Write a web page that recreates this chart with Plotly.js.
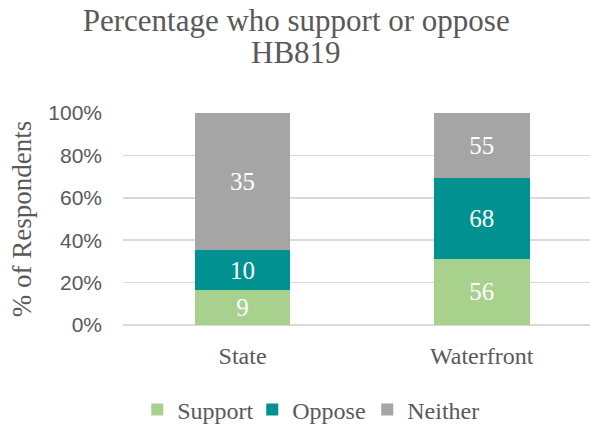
<!DOCTYPE html>
<html>
<head>
<meta charset="utf-8">
<script src="https://cdn.plot.ly/plotly-3.0.1.min.js"></script>
<style>html,body{margin:0;padding:0;background:#fff;}#chart{width:590px;height:427px;}</style>
</head>
<body>
<div id="chart"></div>
<script>
const categories = ["State", "Waterfront"];
const support = [9, 56];
const oppose = [10, 68];
const neither = [35, 55];
const seriesNames = ["Support", "Oppose", "Neither"];
const seriesColors = ["#A9D18E", "#009190", "#A5A5A5"];
const titleLine1 = "Percentage who support or oppose";
const titleLine2 = "HB819";

const serif = "'Liberation Serif', 'Times New Roman', serif";
const sans = "'Liberation Sans', Arial, sans-serif";
const vals = [support, oppose, neither];

const traces = vals.map((v, i) => ({
  type: "bar",
  name: seriesNames[i],
  x: categories,
  y: v,
  text: v.map(String),
  textposition: "inside",
  insidetextanchor: "middle",
  textangle: 0,
  textfont: {family: serif, size: 25, color: "#ffffff"},
  marker: {color: seriesColors[i], line: {width: 0}},
  width: 0.4,
  hoverinfo: "skip"
}));

const layout = {
  width: 590, height: 427,
  margin: {l: 123, r: 0, t: 113, b: 102},
  paper_bgcolor: "#ffffff",
  plot_bgcolor: "#ffffff",
  barmode: "stack",
  barnorm: "percent",
  showlegend: true,
  title: {
    text: titleLine1,
    font: {family: serif, size: 31, color: "#595959"},
    x: 0.502, xref: "container", xanchor: "center",
    y: 0.953, yref: "container", yanchor: "middle"
  },
  annotations: [{
    text: titleLine2,
    showarrow: false,
    xref: "paper", yref: "paper",
    x: (296 - 123) / 467, y: (325 - 52) / 212,
    xanchor: "center", yanchor: "middle",
    font: {family: serif, size: 31, color: "#595959"}
  }],
  xaxis: {
    type: "category",
    range: [-0.5, 1.453],
    showgrid: false,
    showline: false,
    zeroline: false,
    ticks: "",
    ticklabelstandoff: 14,
    tickfont: {family: serif, size: 24, color: "#595959"},
    fixedrange: true
  },
  yaxis: {
    range: [0, 100],
    dtick: 20,
    ticksuffix: "%",
    showgrid: true,
    gridcolor: "#D9D9D9",
    gridwidth: 1.5,
    zeroline: true,
    zerolinecolor: "#D9D9D9",
    zerolinewidth: 1.5,
    showline: false,
    ticks: "",
    ticklabelstandoff: 20,
    tickfont: {family: sans, size: 21, color: "#595959"},
    title: {text: "% of Respondents", font: {family: serif, size: 27, color: "#595959"}, standoff: 8},
    fixedrange: true
  },
  legend: {
    orientation: "h",
    x: 0.525, xref: "container", xanchor: "center",
    y: 0.04, yref: "container", yanchor: "middle",
    font: {family: serif, size: 24, color: "#595959"},
    traceorder: "normal",
    itemwidth: 30,
    entrywidth: 70,
    entrywidthmode: "pixels"
  }
};

Plotly.newPlot("chart", traces, layout, {displayModeBar: false, staticPlot: true});
</script>
</body>
</html>
